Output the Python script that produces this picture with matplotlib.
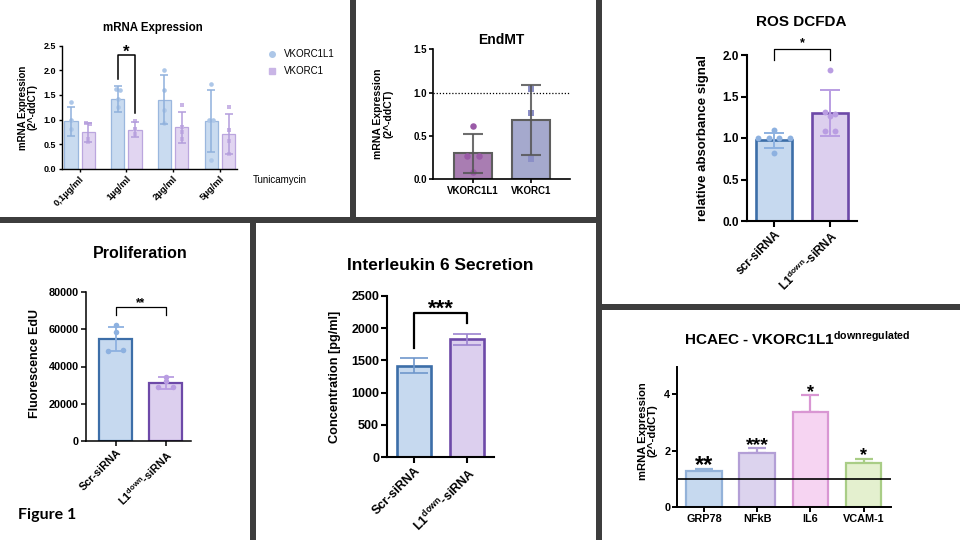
import matplotlib
matplotlib.use('Agg')
import matplotlib.pyplot as plt
from matplotlib.patches import Rectangle
from matplotlib.lines import Line2D
import numpy as np

plt.rcParams['font.family'] = ['Liberation Sans', 'DejaVu Sans']
plt.rcParams['mathtext.fontset'] = 'custom'
plt.rcParams['mathtext.rm'] = 'Liberation Sans:bold'
plt.rcParams['mathtext.it'] = 'Liberation Sans:bold'
plt.rcParams['mathtext.bf'] = 'Liberation Sans:bold'

# ---------------- data ----------------
# Panel 1: mRNA Expression (Tunicamycin)
p1_groups = ['0,1µg/ml', '1µg/ml', '2µg/ml', '5µg/ml']
p1_series = ['VKORC1L1', 'VKORC1']
p1_l1_mean = [0.96, 1.42, 1.40, 0.97]
p1_l1_sd = [0.29, 0.26, 0.50, 0.63]
p1_c1_mean = [0.74, 0.79, 0.84, 0.71]
p1_c1_sd = [0.19, 0.15, 0.32, 0.41]
p1_l1_pts = [[1.36, 0.99, 0.80], [1.62, 1.60, 1.42, 1.25],
             [2.00, 1.60, 1.20, 0.93], [1.72, 1.00, 0.99, 0.18]]
p1_c1_pts = [[0.92, 0.91, 0.60, 0.55], [0.97, 0.80, 0.70],
             [1.30, 0.85, 0.75, 0.60], [1.26, 0.78, 0.57, 0.30]]

# Panel 2: EndMT
p2_labels = ['VKORC1L1', 'VKORC1']
p2_mean = [0.30, 0.68]
p2_sd = [0.225, 0.405]
p2_pts = [[0.62, 0.27, 0.27, 0.08], [1.04, 0.77, 0.24]]

# Panel 3: ROS DCFDA
p3_labels = ['scr-siRNA', 'L1$^{down}$-siRNA']
p3_mean = [0.97, 1.30]
p3_sd = [0.09, 0.28]
p3_pts = [[1.10, 1.00, 1.00, 1.00, 1.00, 0.82],
          [1.82, 1.31, 1.29, 1.26, 1.08, 1.08]]

# Panel 4: Proliferation
p4_labels = ['Scr-siRNA', 'L1$^{down}$-siRNA']
p4_mean = [54800, 31000]
p4_sd = [6600, 3100]
p4_pts = [[62500, 58500, 48500, 48800], [34300, 32000, 28800, 29100]]

# Panel 5: Interleukin 6 Secretion
p5_labels = ['Scr-siRNA', 'L1$^{down}$-siRNA']
p5_mean = [1420, 1825]
p5_sd = [120, 90]

# Panel 6: HCAEC - VKORC1L1 downregulated
p6_labels = ['GRP78', 'NFkB', 'IL6', 'VCAM-1']
p6_mean = [1.30, 1.93, 3.38, 1.56]
p6_err = [0.06, 0.16, 0.59, 0.15]
p6_sig = ['**', '***', '*', '*']

# ---------------- helpers ----------------
W, H = 960, 540
fig = plt.figure(figsize=(9.6, 5.4), dpi=100)
fig.patch.set_facecolor('white')


def add_ax(l, t, r, b):
    return fig.add_axes([l / W, 1 - b / H, (r - l) / W, (b - t) / H])


def style(ax, lw=1.0, tl=3.0, fs=7, xfs=None):
    for s in ['top', 'right']:
        ax.spines[s].set_visible(False)
    for s in ['left', 'bottom']:
        ax.spines[s].set_linewidth(lw)
    ax.tick_params(direction='out', length=tl, width=lw, labelsize=fs, pad=1.5)
    if xfs is not None:
        ax.tick_params(axis='x', labelsize=xfs)
    for lab in ax.get_yticklabels() + ax.get_xticklabels():
        lab.set_fontweight('bold')
    ax.patch.set_alpha(0)


def swarm(vals, tol, step):
    offs = [0.0] * len(vals)
    used = [False] * len(vals)
    for i in range(len(vals)):
        if used[i]:
            continue
        grp = [j for j in range(len(vals)) if not used[j] and abs(vals[j] - vals[i]) <= tol]
        for j in grp:
            used[j] = True
        n = len(grp)
        for k, j in enumerate(grp):
            offs[j] = (k - (n - 1) / 2) * step
    return offs


def figtext(x, y, s, **kw):
    fig.text(x / W, 1 - y / H, s, **kw)


def star(ax, x, y, s, fs):
    ax.annotate(s, (x, y), xytext=(0, -0.55 * fs), textcoords='offset points',
                ha='center', va='baseline', fontsize=fs, fontweight='bold',
                annotation_clip=False)


# ---------------- separators ----------------
sep = '#3d3d3d'
for (x0, y0, x1, y1) in [(350, 0, 356, 217), (0, 217, 596, 223), (250, 223, 256, 540),
                         (596, 0, 602, 540), (602, 304, 960, 310)]:
    fig.add_artist(Rectangle((x0 / W, 1 - y1 / H), (x1 - x0) / W, (y1 - y0) / H,
                             transform=fig.transFigure, facecolor=sep, edgecolor='none'))

# ---------------- Panel 1 ----------------
ax1 = add_ax(61.7, 45.7, 236.7, 168.7)
xg = np.arange(len(p1_groups))
off = 0.185
bw = 0.28
c_l1_fill, c_l1_edge, c_l1_pt = '#c9dbf0', '#9ab7de', '#adc7e8'
c_c1_fill, c_c1_edge, c_c1_pt = '#e1d5f1', '#bba6de', '#c9b5e6'
ax1.bar(xg - off, p1_l1_mean, bw, color=c_l1_fill, edgecolor=c_l1_edge, linewidth=0.9, zorder=1)
ax1.bar(xg + off, p1_c1_mean, bw, color=c_c1_fill, edgecolor=c_c1_edge, linewidth=0.9, zorder=1)
for i in range(len(p1_groups)):
    o = swarm(p1_l1_pts[i], 0.04, 0.09)
    ax1.scatter(xg[i] - off + np.array(o), p1_l1_pts[i], s=11, marker='o', color=c_l1_pt,
                zorder=2, linewidths=0)
    o = swarm(p1_c1_pts[i], 0.04, 0.09)
    ax1.scatter(xg[i] + off + np.array(o), p1_c1_pts[i], s=11, marker='s', color=c_c1_pt,
                zorder=2, linewidths=0)
ax1.errorbar(xg - off, p1_l1_mean, yerr=p1_l1_sd, fmt='none', ecolor='#8fb0dc', elinewidth=1.1,
             capsize=2.6, capthick=1.1, zorder=3)
ax1.errorbar(xg + off, p1_c1_mean, yerr=p1_c1_sd, fmt='none', ecolor='#b39ddc', elinewidth=1.1,
             capsize=2.6, capthick=1.1, zorder=3)
ax1.set_xlim(-0.383, 3.36)
ax1.set_ylim(0, 2.5)
ax1.set_yticks([0, 0.5, 1.0, 1.5, 2.0, 2.5])
ax1.set_yticklabels(['0.0', '0.5', '1.0', '1.5', '2.0', '2.5'])
ax1.set_xticks(xg)
ax1.set_xticklabels(p1_groups, rotation=45, ha='right', rotation_mode='anchor')
style(ax1, lw=1.0, tl=2.5, fs=6.5, xfs=6.8)
# bracket
ax1.plot([1 - off, 1 - off, 1 + off, 1 + off], [1.82, 2.32, 2.32, 1.13], color='black', lw=1.1,
         clip_on=False, zorder=4)
star(ax1, 1.0, 2.47, '*', 12)
figtext(152.7, 30.7, 'mRNA Expression', ha='center', va='baseline', fontsize=8.3, fontweight='bold')
figtext(28, 107.5, 'mRNA Expression\n(2^-ddCT)', ha='center', va='center', rotation=90,
        fontsize=7, fontweight='bold', linespacing=1.0)
handles = [Line2D([], [], marker='o', ls='none', color=c_l1_pt, markersize=4),
           Line2D([], [], marker='s', ls='none', color=c_c1_pt, markersize=4)]
fig.legend(handles, p1_series, loc='upper left', bbox_to_anchor=(267 / W, 1 - 49 / H),
           frameon=False, fontsize=7, handlelength=1.0, handletextpad=0.75, labelspacing=0.75,
           borderaxespad=0, borderpad=0)
figtext(253, 180, 'Tunicamycin', ha='left', va='center', fontsize=7)

# ---------------- Panel 2 ----------------
ax2 = add_ax(433.3, 49.3, 570, 179.3)
x2 = np.arange(2)
p2_fill = ['#a97db2', '#a5a9cd']
p2_ptc = ['#9a5aa7', '#8b8fc6']
p2_mk = ['o', 's']
ax2.bar(x2, p2_mean, 0.65, color=p2_fill, edgecolor='#5e5e5e', linewidth=1.5, zorder=1)
for i in range(2):
    o = swarm(p2_pts[i], 0.03, 0.2)
    ax2.scatter(x2[i] + np.array(o), p2_pts[i], s=22, marker=p2_mk[i], color=p2_ptc[i],
                zorder=2, linewidths=0)
ax2.errorbar(x2, p2_mean, yerr=p2_sd, fmt='none', ecolor='#555555', elinewidth=1.5,
             capsize=7.5, capthick=1.5, zorder=3, alpha=0.85)
ax2.axhline(1.0, color='black', lw=0.9, ls=(0, (1, 1.5)), zorder=0)
ax2.set_xlim(-0.69, 1.68)
ax2.set_ylim(0, 1.5)
ax2.set_yticks([0, 0.5, 1.0, 1.5])
ax2.set_yticklabels(['0.0', '0.5', '1.0', '1.5'])
ax2.set_xticks(x2)
ax2.set_xticklabels(p2_labels)
style(ax2, lw=1.2, tl=3, fs=7)
figtext(501.7, 44, 'EndMT', ha='center', va='baseline', fontsize=10, fontweight='bold')
figtext(383.3, 114, 'mRNA Expression\n(2^-ddCT)', ha='center', va='center', rotation=90,
        fontsize=7.5, fontweight='bold', linespacing=1.0)

# ---------------- Panel 3 ----------------
ax3 = add_ax(746.7, 55, 857.3, 221)
x3 = np.arange(2)
fills = ['#c6d9ef', '#dccfee']
edges = ['#3c6ea8', '#6d49a8']
ptc = ['#8db1e0', '#b99de2']
ax3.bar(x3, p3_mean, 0.65, color=fills, edgecolor=edges, linewidth=1.9, zorder=1)
for i in range(2):
    o = swarm(p3_pts[i], 0.05, 0.19)
    ax3.scatter(x3[i] + np.array(o), p3_pts[i], s=18, color=ptc[i], zorder=2, linewidths=0)
    ax3.errorbar(x3[i], p3_mean[i], yerr=p3_sd[i], fmt='none', ecolor=ptc[i], elinewidth=1.4,
                 capsize=7.5, capthick=1.4, zorder=3)
ax3.set_xlim(-0.49, 1.49)
ax3.set_ylim(0, 2.0)
ax3.set_yticks([0, 0.5, 1.0, 1.5, 2.0])
ax3.set_yticklabels(['0.0', '0.5', '1.0', '1.5', '2.0'])
ax3.set_xticks(x3)
ax3.set_xticklabels(p3_labels, rotation=45, ha='right', rotation_mode='anchor')
style(ax3, lw=1.5, tl=4, fs=8.5)
ax3.plot([0, 0, 1, 1], [1.94, 2.07, 2.07, 1.94], color='black', lw=0.9, clip_on=False)
star(ax3, 0.5, 2.19, '*', 9)
figtext(801.7, 26, 'ROS DCFDA', ha='center', va='baseline', fontsize=11, fontweight='bold')
figtext(703.3, 138.3, 'relative absorbance signal', ha='center', va='center', rotation=90,
        fontsize=9.5, fontweight='bold')

# ---------------- Panel 4 ----------------
ax4 = add_ax(86, 292.3, 190.7, 440.7)
x4 = np.arange(2)
ax4.bar(x4, p4_mean, 0.66, color=fills, edgecolor=edges, linewidth=1.6, zorder=1)
for i in range(2):
    o = swarm(p4_pts[i], 1500, 0.3)
    ax4.scatter(x4[i] + np.array(o), p4_pts[i], s=16, color=ptc[i], zorder=2, linewidths=0)
    ax4.errorbar(x4[i], p4_mean[i], yerr=p4_sd[i], fmt='none', ecolor=ptc[i], elinewidth=1.3,
                 capsize=6, capthick=1.3, zorder=3)
ax4.set_xlim(-0.594, 1.5)
ax4.set_ylim(0, 80000)
ax4.set_yticks([0, 20000, 40000, 60000, 80000])
ax4.set_xticks(x4)
ax4.set_xticklabels(p4_labels, rotation=45, ha='right', rotation_mode='anchor')
style(ax4, lw=1.1, tl=3.5, fs=7.8)
ax4.plot([0, 0, 1, 1], [67700, 72200, 72200, 67700], color='black', lw=0.9, clip_on=False)
star(ax4, 0.5, 76000, '**', 8.5)
figtext(140, 258.3, 'Proliferation', ha='center', va='baseline', fontsize=11.5, fontweight='bold')
figtext(35, 364, 'Fluorescence EdU', ha='center', va='center', rotation=90,
        fontsize=9, fontweight='bold')
figtext(18, 519, 'Figure 1', ha='left', va='baseline', fontsize=11.5, fontweight='bold',
        family=['Lato', 'DejaVu Sans'])

# ---------------- Panel 5 ----------------
ax5 = add_ax(386.7, 295.7, 494.3, 457.3)
x5 = np.arange(2)
ec5 = ['#6f97cc', '#9c83cf']
ax5.bar(x5, p5_mean, 0.65, color=fills, edgecolor=edges, linewidth=1.9, zorder=1)
for i in range(2):
    ax5.errorbar(x5[i], p5_mean[i], yerr=p5_sd[i], fmt='none', ecolor=ec5[i], elinewidth=1.2,
                 capsize=10, capthick=1.2, zorder=3)
ax5.set_xlim(-0.51, 1.51)
ax5.set_ylim(0, 2500)
ax5.set_yticks([0, 500, 1000, 1500, 2000, 2500])
ax5.set_xticks(x5)
ax5.set_xticklabels(p5_labels, rotation=45, ha='right', rotation_mode='anchor')
style(ax5, lw=1.5, tl=4, fs=9)
ax5.plot([0, 0, 1, 1], [1695, 2228, 2228, 2073], color='black', lw=1.6, clip_on=False)
star(ax5, 0.5, 2400, '***', 16)
figtext(440, 270, 'Interleukin 6 Secretion', ha='center', va='baseline', fontsize=12.5,
        fontweight='bold')
figtext(335, 376.7, 'Concentration [pg/ml]', ha='center', va='center', rotation=90,
        fontsize=9.2, fontweight='bold')

# ---------------- Panel 6 ----------------
ax6 = add_ax(677.3, 366.7, 890.7, 507.3)
x6 = np.arange(4)
f6 = ['#c6d9ef', '#dcd3ee', '#f6d4f2', '#e4f0cf']
e6 = ['#93b2d9', '#b39fd6', '#d996d3', '#a9cd86']
ax6.bar(x6, p6_mean, 0.67, color=f6, edgecolor=e6, linewidth=1.6, zorder=1)
for i in range(4):
    ax6.errorbar(x6[i], p6_mean[i], yerr=[[0], [p6_err[i]]], fmt='none', ecolor=e6[i],
                 elinewidth=1.6, capsize=6.5, capthick=1.6, zorder=0.5)
ax6.axhline(1.0, color='black', lw=1.2, zorder=3)
ax6.set_xlim(-0.5, 3.51)
ax6.set_ylim(0, 4.98)
ax6.set_yticks([0, 2, 4])
ax6.set_xticks(x6)
ax6.set_xticklabels(p6_labels)
style(ax6, lw=1.4, tl=3.5, fs=7.8)
sig_y = [1.71, 2.41, 4.27, 2.03]
sig_fs = [17, 14, 13, 13]
for i in range(4):
    star(ax6, x6[i], sig_y[i], p6_sig[i], sig_fs[i])
figtext(797, 344.3, 'HCAEC - VKORC1L1$^{downregulated}$', ha='center', va='baseline',
        fontsize=11, fontweight='bold')
figtext(648, 430.8, 'mRNA Expression\n(2^-ddCT)', ha='center', va='center', rotation=90,
        fontsize=8.1, fontweight='bold', linespacing=1.0)

fig.savefig('out.png', dpi=100)
